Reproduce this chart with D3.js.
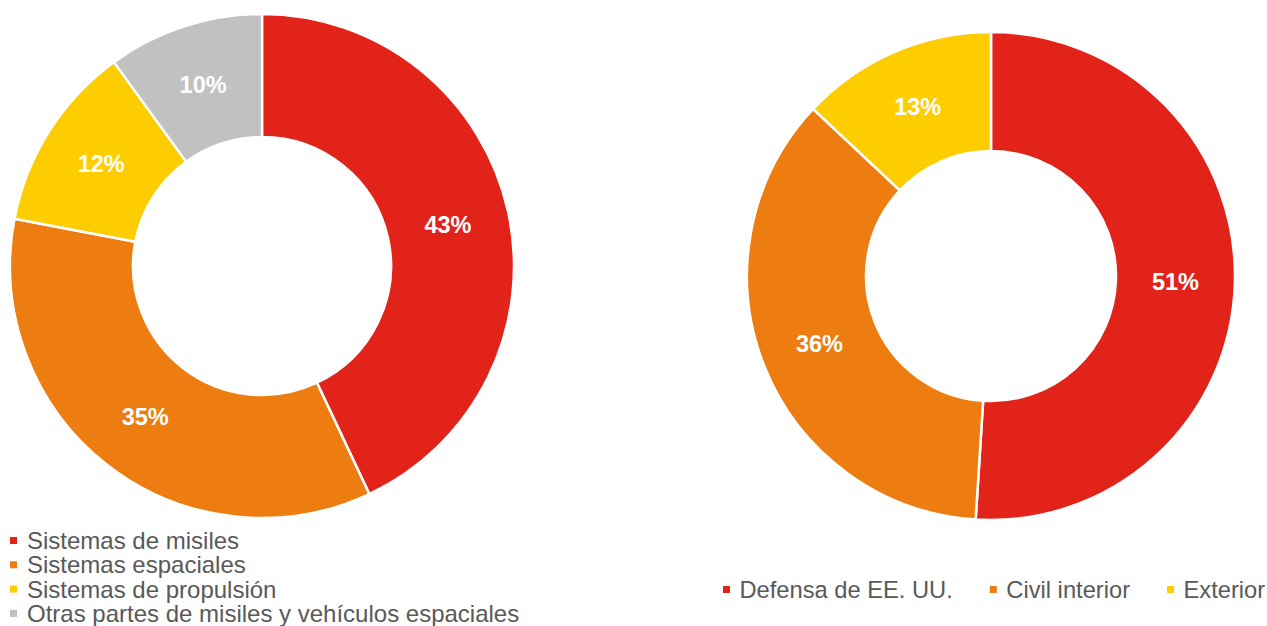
<!DOCTYPE html>
<html>
<head>
<meta charset="utf-8">
<script src="https://cdn.jsdelivr.net/npm/d3@7"></script>
<style>
  body { margin: 0; background: #fff; }
  svg { display: block; font-family: "Liberation Sans", Arial, sans-serif; }
</style>
</head>
<body>
<svg id="chart" width="1267" height="626"></svg>
<script>
// left donut: product breakdown
const leftCats = ['Sistemas de misiles', 'Sistemas espaciales', 'Sistemas de propulsión', 'Otras partes de misiles y vehículos espaciales'];
const leftVals = [43, 35, 12, 10];
const leftColors = ['#e2231a', '#ee7d11', '#fdcd00', '#c2c1c2'];

// right donut: customer breakdown
const rightCats = ['Defensa de EE. UU.', 'Civil interior', 'Exterior'];
const rightVals = [51, 36, 13];
const rightColors = ['#e2231a', '#ee7d11', '#fdcd00'];

const svg = d3.select('#chart');

function drawDonut(cx, cy, rOut, rIn, cats, vals, colors) {
  const pie = d3.pie().sort(null).value(d => d.v);
  const arc = d3.arc().innerRadius(rIn).outerRadius(rOut);
  const data = cats.map((c, i) => ({ c: c, v: vals[i], col: colors[i] }));
  const g = svg.append('g').attr('transform', `translate(${cx},${cy})`);
  const arcs = pie(data);

  g.selectAll('path').data(arcs).enter().append('path')
    .attr('d', arc)
    .attr('fill', d => d.data.col)
    .attr('stroke', '#fff')
    .attr('stroke-width', 2.5);

  g.selectAll('text').data(arcs).enter().append('text')
    .attr('x', d => arc.centroid(d)[0])
    .attr('y', d => arc.centroid(d)[1])
    .attr('text-anchor', 'middle')
    .attr('dy', '0.35em')
    .attr('fill', '#fff')
    .attr('font-weight', 'bold')
    .attr('font-size', 23.5)
    .text(d => d.data.v + '%');
}

drawDonut(262, 266, 252, 129, leftCats, leftVals, leftColors);
drawDonut(991, 276, 244, 125, rightCats, rightVals, rightColors);

// left legend, stacked (lines sit tight, like the original)
const legL = svg.append('g');
leftCats.forEach((c, i) => {
  const y = 540.5 + i * 24.3;
  legL.append('rect').attr('x', 10).attr('y', y - 3.5).attr('width', 7).attr('height', 7).attr('fill', leftColors[i]);
  legL.append('text').attr('x', 27).attr('y', y).attr('dy', '0.35em')
    .attr('font-size', 24).attr('fill', '#595959').text(c);
});

// right legend, one row
const legR = svg.append('g');
let xs = 723;
rightCats.forEach((c, i) => {
  const it = legR.append('g');
  it.append('rect').attr('x', 0).attr('y', -3.5).attr('width', 7).attr('height', 7).attr('fill', rightColors[i]);
  const t = it.append('text').attr('x', 16.5).attr('dy', '0.35em')
    .attr('font-size', 23.7).attr('fill', '#595959').text(c);
  it.attr('transform', `translate(${xs},589.5)`);
  xs += 16.5 + t.node().getComputedTextLength() + 37;
});
</script>
</body>
</html>
